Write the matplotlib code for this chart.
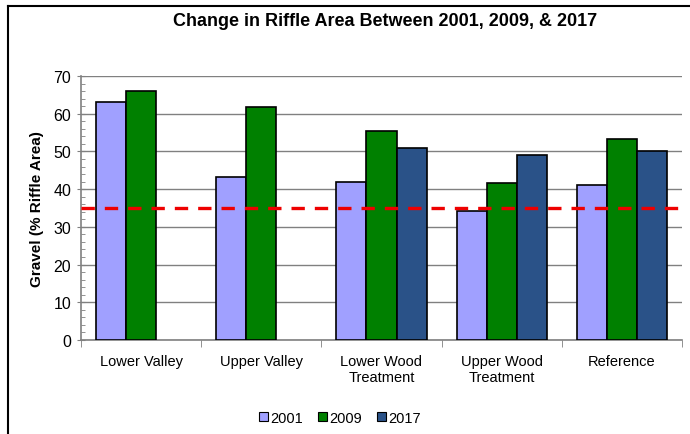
import matplotlib
matplotlib.use("Agg")
import matplotlib.pyplot as plt
import numpy as np
from matplotlib.ticker import MultipleLocator
from matplotlib.patches import Rectangle
from matplotlib.lines import Line2D

plt.rcParams['font.family'] = ['Liberation Sans', 'DejaVu Sans']

categories = ["Lower Valley", "Upper Valley", "Lower Wood\nTreatment", "Upper Wood\nTreatment", "Reference"]
series_names = ["2001", "2009", "2017"]
v2001 = [63.1, 43.2, 42.0, 34.1, 41.2]
v2009 = [66.0, 61.7, 55.3, 41.6, 53.3]
v2017 = [np.nan, np.nan, 50.9, 49.0, 50.0]
threshold = 35
colors = ["#A0A0FF", "#008000", "#2A5288"]

fig = plt.figure(figsize=(6.9, 4.35), dpi=100)
ax = fig.add_axes([81/690, 1-341/435, (682-81)/690, (341-77)/435])

x = np.arange(len(categories))
w = 0.25
for i, (vals, c, name) in enumerate(zip([v2001, v2009, v2017], colors, series_names)):
    ax.bar(x + (i-1)*w, vals, width=w, color=c, edgecolor='black', linewidth=1.2, label=name, zorder=3)

ax.axhline(threshold, color='#EE0000', linestyle=(0, (4, 3)), linewidth=2.4, zorder=4)

ax.set_xlim(-0.5, len(categories)-0.5)
ax.set_ylim(0, 70)
ax.yaxis.set_major_locator(MultipleLocator(10))
ax.yaxis.set_minor_locator(MultipleLocator(2))
ax.grid(axis='y', which='major', color='#808080', linewidth=1.0, zorder=0)
ax.set_axisbelow(True)

ax.set_xticks(x)
ax.set_xticklabels(categories, fontsize=10.5)
ax.set_xticks(np.arange(-0.5, len(categories)), minor=True)
ax.tick_params(axis='x', which='major', length=0, pad=10)
ax.tick_params(axis='x', which='minor', length=5, direction='out', color='#808080')
ax.tick_params(axis='y', which='major', length=6, direction='inout', color='#808080', labelsize=11.5, pad=4)
ax.tick_params(axis='y', which='minor', length=3, direction='in', color='#808080')

for s in ['top', 'right']:
    ax.spines[s].set_visible(False)
for s in ['left', 'bottom']:
    ax.spines[s].set_color('#808080')
    ax.spines[s].set_linewidth(1.2)

ax.set_ylabel("Gravel (% Riffle Area)", fontsize=11, fontweight='bold', labelpad=7)

fig.text(385/690, 1-22/435, "Change in Riffle Area Between 2001, 2009, & 2017",
         ha='center', va='center', fontsize=13, fontweight='bold')

handles = [Rectangle((0, 0), 1, 1, facecolor=c, edgecolor='black', linewidth=0.8) for c in colors]
fig.legend(handles, series_names, loc='center', bbox_to_anchor=(340/690, 1-419/435), ncol=3,
           frameon=False, fontsize=10.5, handlelength=0.6, handleheight=0.6, handletextpad=0.2,
           columnspacing=1.0)

# figure border (left and top)
fig.add_artist(Line2D([8/690, 8/690], [0, 1-7/435], transform=fig.transFigure, color='black', linewidth=1.5))
fig.add_artist(Line2D([8/690, 1], [1-7/435, 1-7/435], transform=fig.transFigure, color='black', linewidth=1.5))

fig.savefig("out.png", dpi=100)
